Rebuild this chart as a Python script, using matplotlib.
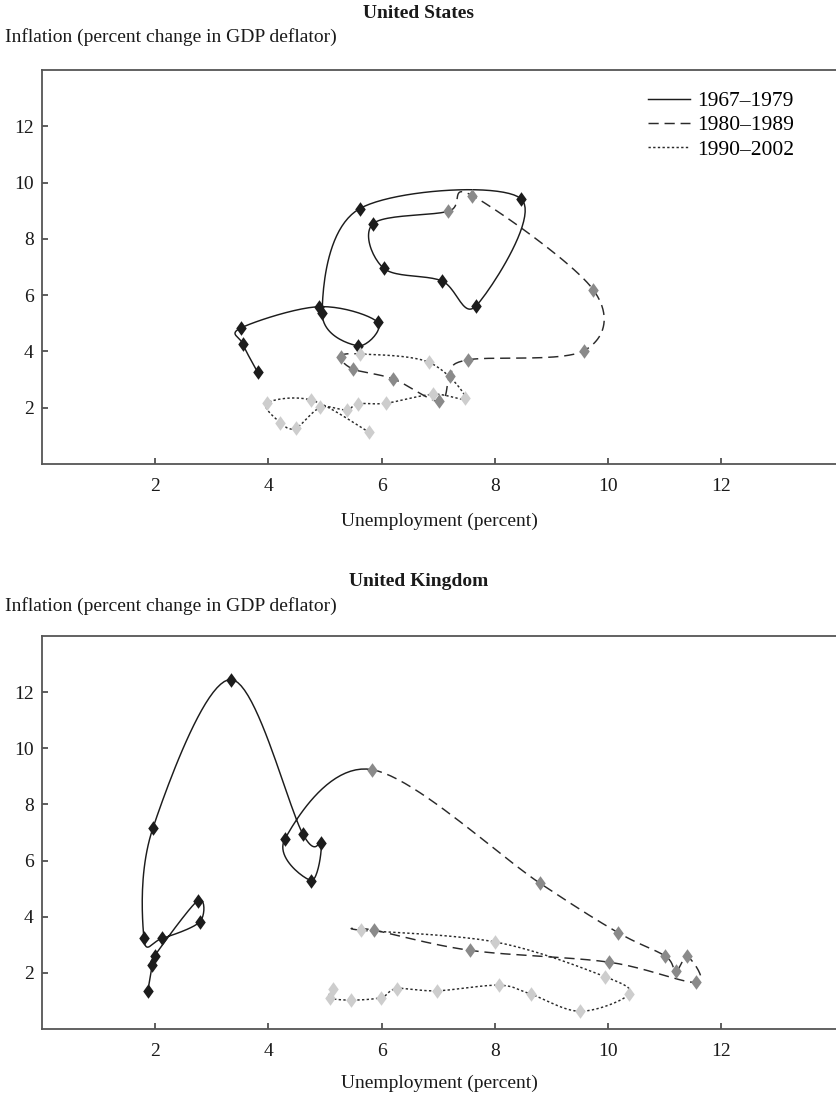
import numpy as np
import matplotlib
matplotlib.use("Agg")
import matplotlib.pyplot as plt
from matplotlib.path import Path
from matplotlib.lines import Line2D

plt.rcParams['font.family'] = ['Liberation Serif', 'DejaVu Serif']

periods = ["1967–1979", "1980–1989", "1990–2002"]

# United States (unemployment %, inflation %)
us_u_1 = [3.81, 3.55, 3.51, 4.89, 5.93, 5.58, 4.95, 5.61, 8.46, 7.67, 7.06, 6.04, 5.85]
us_i_1 = [3.26, 4.26, 4.83, 5.59, 5.04, 4.20, 5.38, 9.07, 9.43, 5.62, 6.51, 6.95, 8.54]
us_u_2 = [7.18, 7.60, 9.74, 9.58, 7.52, 7.21, 7.02, 6.21, 5.50, 5.28]
us_i_2 = [8.98, 9.54, 6.19, 4.03, 3.70, 3.13, 2.23, 3.02, 3.37, 3.81]
us_u_3 = [5.61, 6.83, 7.48, 6.91, 6.08, 5.58, 5.38, 4.92, 4.48, 4.21, 3.97, 4.76, 5.77]
us_i_3 = [3.91, 3.62, 2.36, 2.48, 2.16, 2.14, 1.92, 2.01, 1.27, 1.47, 2.16, 2.27, 1.14]

# United Kingdom
uk_u_1 = [1.87, 1.95, 1.99, 2.75, 2.79, 2.12, 1.80, 1.96, 3.34, 4.61, 4.93, 4.76, 4.29]
uk_i_1 = [1.36, 2.29, 2.61, 4.57, 3.82, 3.23, 3.23, 7.16, 12.45, 6.94, 6.64, 5.29, 6.76]
uk_u_2 = [5.83, 8.80, 10.18, 11.01, 11.20, 11.40, 11.56, 10.02, 7.57, 5.87]
uk_i_2 = [9.24, 5.19, 3.43, 2.60, 2.07, 2.60, 1.66, 2.38, 2.80, 3.52]
uk_u_3 = [5.63, 8.01, 9.94, 10.37, 9.51, 8.64, 8.08, 6.98, 6.27, 5.99, 5.46, 5.08, 5.15]
uk_i_3 = [3.52, 3.10, 1.87, 1.24, 0.63, 1.24, 1.56, 1.36, 1.44, 1.12, 1.03, 1.12, 1.44]

x_ticks = [2, 4, 6, 8, 10, 12]
y_ticks = [2, 4, 6, 8, 10, 12]

marker_colors = ['#1c1c1c', '#8a8a8a', '#cdcdcd']
line_colors = ['#1c1c1c', '#2a2a2a', '#2a2a2a']
line_styles = ['-', (0, (7, 4)), (0, (1.6, 1.6))]

diamond = Path([(0, 1), (0.72, 0), (0, -1), (-0.72, 0), (0, 1)],
               [Path.MOVETO, Path.LINETO, Path.LINETO, Path.LINETO, Path.CLOSEPOLY])

FS = 14
W, H = 837, 1097
fig = plt.figure(figsize=(W / 100, H / 100), dpi=100)


def bezier_segments(xs, ys, n=24):
    P = np.column_stack([xs, ys]).astype(float)
    segs = []
    for i in range(len(P) - 1):
        p0 = P[max(i - 1, 0)]
        p1 = P[i]
        p2 = P[i + 1]
        p3 = P[min(i + 2, len(P) - 1)]
        c1 = p1 + (p2 - p0) / 6.0
        c2 = p2 - (p3 - p1) / 6.0
        t = np.linspace(0, 1, n)[:, None]
        seg = ((1 - t) ** 3) * p1 + 3 * ((1 - t) ** 2) * t * c1 + 3 * (1 - t) * (t ** 2) * c2 + (t ** 3) * p2
        segs.append(seg)
    return segs


def panel(top_px, bottom_px, title, title_y, ylab_y, xlab_y, data, legend=False):
    ax = fig.add_axes([42 / W, 1 - bottom_px / H, (W - 42) / W, (bottom_px - top_px) / H])
    xs_all = np.concatenate([d[0] for d in data])
    ys_all = np.concatenate([d[1] for d in data])
    period_idx = np.concatenate([[k] * len(d[0]) for k, d in enumerate(data)])
    segs = bezier_segments(xs_all, ys_all)
    for k in range(3):
        pts = [segs[i] for i in range(len(segs)) if period_idx[i] == k]
        curve = np.vstack(pts)
        ax.plot(curve[:, 0], curve[:, 1], color=line_colors[k], linestyle=line_styles[k],
                lw=1.05, zorder=2, solid_capstyle='butt')
    for k, (xs, ys) in enumerate(data):
        ax.plot(xs, ys, linestyle='none', marker=diamond, markersize=10.5,
                markerfacecolor=marker_colors[k], markeredgewidth=0, zorder=3)
    ax.set_xlim(0, (W - 42) / 56.6)
    ax.set_ylim(0, 14)
    ax.set_xticks(x_ticks)
    ax.set_yticks(y_ticks)
    ax.tick_params(direction='in', length=4.5, width=1.1, color='#333333',
                   labelsize=FS, labelcolor='#1a1a1a')
    ax.tick_params(axis='x', pad=10)
    ax.tick_params(axis='y', pad=6)
    for s in ['left', 'bottom', 'top']:
        ax.spines[s].set_color('#555555')
        ax.spines[s].set_linewidth(1.3)
    ax.spines['right'].set_visible(False)
    fig.text(0.5, 1 - title_y / H, title, ha='center', va='center', fontsize=FS,
             fontweight='bold', color='#1a1a1a')
    fig.text(5 / W, 1 - ylab_y / H, 'Inflation (percent change in GDP deflator)',
             ha='left', va='center', fontsize=FS, color='#1a1a1a')
    fig.text((42 + W) / 2 / W, 1 - xlab_y / H, 'Unemployment (percent)',
             ha='center', va='center', fontsize=FS, color='#1a1a1a')
    if legend:
        handles = [Line2D([0], [0], color=line_colors[k], linestyle=line_styles[k], lw=1.05)
                   for k in range(3)]
        ax.legend(handles, periods, loc='upper left', frameon=False, fontsize=15.5,
                  bbox_to_anchor=((648 - 42) / (W - 42), 1 - (91 - top_px) / (bottom_px - top_px)),
                  borderpad=0, borderaxespad=0, handlelength=1.95, handletextpad=0.35,
                  labelspacing=0.2)
    return ax


panel(70, 464, 'United States', 13, 37, 521,
      [(us_u_1, us_i_1), (us_u_2, us_i_2), (us_u_3, us_i_3)], legend=True)
panel(636, 1029, 'United Kingdom', 581, 606, 1083,
      [(uk_u_1, uk_i_1), (uk_u_2, uk_i_2), (uk_u_3, uk_i_3)])

fig.savefig('out.png', dpi=100)
